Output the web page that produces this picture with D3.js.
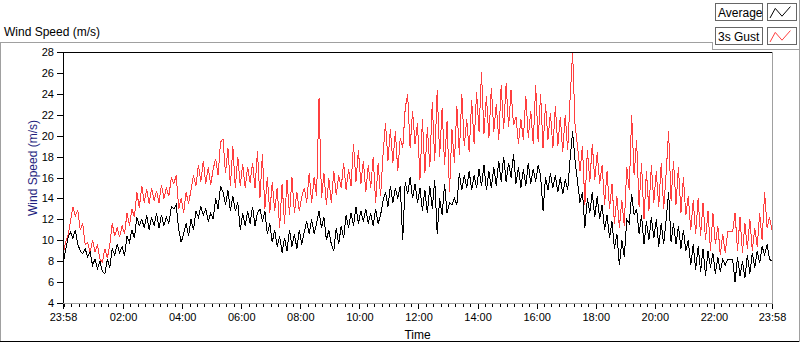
<!DOCTYPE html>
<html>
<head>
<meta charset="utf-8">
<script src="https://cdn.jsdelivr.net/npm/d3@7"></script>
<style>
  body { margin: 0; background: #fff; }
  svg { display: block; font-family: "Liberation Sans", Arial, sans-serif; }
</style>
</head>
<body>
<svg id="chart" width="800" height="342"></svg>
<script>
// values, one sample every 5 minutes from 23:58
var stepMinutes = 5;
var yTicks = [4, 6, 8, 10, 12, 14, 16, 18, 20, 22, 24, 26, 28];
var xTickLabels = ["23:58", "02:00", "04:00", "06:00", "08:00", "10:00", "12:00",
  "14:00", "16:00", "18:00", "20:00", "22:00", "23:58"];
var seriesNames = ["Average", "3s Gust"];

var gust = [
  8.6, 9.8, 10.4, 11.8, 13.2, 12.3, 12.9, 11.0, 11.6, 9.6,
  9.8, 8.8, 10.0, 8.9, 9.6, 8.2, 7.9, 9.2, 8.3, 9.5,
  11.6, 10.4, 11.2, 10.3, 11.4, 10.6, 12.6, 11.4, 13.0, 12.2,
  14.6, 13.1, 15.2, 13.6, 14.9, 13.5, 15.0, 13.8, 14.7, 13.6,
  15.3, 14.0, 15.0, 14.2, 16.0, 15.4, 16.2, 13.0, 14.0, 12.6,
  14.6, 13.5, 14.8, 16.2, 15.2, 17.2, 15.6, 17.6, 15.4, 17.0,
  15.3, 16.8, 17.8, 16.2, 19.4, 19.7, 16.4, 18.8, 15.2, 19.0,
  15.0, 18.0, 15.2, 17.3, 15.0, 17.0, 15.5, 17.4, 15.0, 18.5,
  14.0, 18.2, 13.0, 16.0, 12.6, 15.6, 12.8, 15.0, 11.2, 15.4,
  11.6, 15.8, 12.4, 16.0, 12.6, 14.6, 12.8, 14.2, 15.0, 13.6,
  16.4, 13.6, 16.0, 14.2, 23.6, 14.0, 16.4, 13.4, 15.9, 13.6,
  16.6, 14.3, 16.2, 15.0, 17.4, 14.8, 16.8, 15.2, 19.2, 15.6,
  18.6, 15.4, 17.6, 14.6, 17.2, 15.0, 18.0, 13.6, 17.4, 14.2,
  18.2, 21.2, 17.6, 20.6, 17.4, 20.4, 16.6, 19.8, 18.8, 22.6,
  24.0, 18.8, 22.4, 19.2, 21.2, 15.8, 21.6, 16.4, 20.8, 17.0,
  23.2, 17.6, 24.4, 18.0, 22.6, 17.2, 21.4, 14.6, 20.6, 17.4,
  22.8, 18.2, 24.0, 19.0, 21.6, 18.4, 23.4, 19.2, 24.2, 20.4,
  26.1, 20.2, 23.8, 19.8, 24.6, 20.4, 23.0, 19.6, 24.8, 20.6,
  25.0, 20.8, 24.4, 21.0, 21.8, 19.2, 21.6, 19.6, 23.8, 19.8,
  22.4, 19.2, 24.8, 19.4, 24.0, 18.8, 23.0, 19.6, 22.2, 18.8,
  22.8, 19.0, 21.8, 18.4, 22.0, 18.6, 23.6, 28.0, 21.0, 19.0,
  16.6, 19.0, 13.4, 18.6, 15.6, 19.2, 15.8, 18.4, 15.4, 17.2,
  13.4, 16.6, 13.0, 15.4, 11.6, 14.2, 11.2, 13.8, 11.4, 17.0,
  14.8, 22.0, 16.2, 19.6, 13.2, 17.4, 12.0, 16.6, 12.8, 17.2,
  13.6, 16.6, 13.2, 17.4, 13.0, 16.4, 20.4, 13.8, 17.6, 13.4,
  17.0, 12.6, 16.0, 12.4, 14.2, 11.0, 13.8, 10.6, 14.0, 10.4,
  13.6, 10.0, 12.8, 9.0, 12.6, 9.6, 11.4, 8.6, 10.6, 8.8,
  10.8, 10.8, 10.8, 12.6, 9.0, 12.2, 8.8, 11.6, 9.2, 12.0,
  9.0, 11.2, 9.4, 12.6, 10.0, 14.6, 11.2, 12.2, 11.0
];

var average = [
  7.6, 9.0, 10.2, 10.8, 10.2, 11.0, 9.6, 9.0, 8.7, 9.2,
  8.4, 8.9, 7.6, 8.2, 7.3, 8.0, 7.0, 6.8, 8.2, 7.4,
  9.2, 8.6, 9.6, 8.8, 9.4, 8.5, 10.4, 9.8, 11.0, 10.2,
  12.2, 11.4, 12.0, 11.2, 12.4, 11.0, 12.2, 11.4, 12.6, 11.2,
  12.4, 11.4, 12.2, 11.6, 13.2, 13.0, 13.4, 11.0, 9.8, 10.6,
  11.6, 10.4, 12.0, 11.0, 12.8, 12.2, 13.2, 12.4, 13.0, 11.8,
  12.6, 12.0, 14.0, 13.0, 15.2, 14.6, 13.4, 14.8, 12.8, 14.2,
  12.8, 13.6, 11.0, 12.6, 11.4, 12.8, 11.6, 13.2, 11.4, 12.6,
  13.0, 11.8, 12.8, 10.6, 11.6, 9.8, 11.0, 9.4, 10.4, 8.8,
  10.2, 9.0, 11.0, 9.4, 10.6, 9.2, 11.0, 9.6, 10.8, 11.8,
  10.6, 12.0, 10.6, 11.6, 12.8, 11.2, 12.2, 10.0, 11.0, 9.6,
  9.0, 11.2, 9.6, 11.4, 10.2, 12.4, 11.2, 12.6, 11.4, 13.2,
  11.6, 12.8, 11.8, 13.0, 11.6, 12.6, 11.4, 13.0, 11.6, 12.4,
  13.8, 14.6, 13.2, 15.2, 13.6, 15.0, 14.0, 15.2, 10.0, 15.6,
  14.4, 16.0, 14.0, 15.4, 13.6, 15.0, 12.8, 14.8, 12.6, 15.2,
  13.0, 15.8, 10.6, 14.0, 12.4, 15.4, 12.6, 13.6, 13.4, 14.0,
  13.4, 16.4, 14.8, 16.2, 15.0, 16.6, 14.8, 16.2, 15.0, 16.8,
  15.2, 17.2, 14.8, 16.6, 15.0, 17.0, 15.2, 17.6, 15.6, 18.0,
  15.6, 17.4, 16.0, 18.2, 15.4, 17.0, 15.0, 16.8, 15.2, 17.4,
  15.4, 16.8, 15.6, 17.2, 16.2, 12.8, 16.0, 14.8, 16.4, 15.0,
  16.2, 14.6, 16.0, 14.4, 15.8, 14.8, 17.8, 20.4, 17.6, 15.6,
  13.6, 14.6, 11.2, 14.0, 12.6, 14.6, 12.2, 14.2, 12.0, 13.4,
  11.0, 12.4, 10.2, 11.8, 9.2, 10.6, 7.6, 10.0, 8.4, 12.0,
  11.6, 14.4, 12.4, 13.0, 10.6, 12.4, 9.6, 11.8, 10.0, 12.2,
  10.2, 12.0, 9.4, 11.6, 9.6, 12.0, 14.6, 9.8, 11.6, 9.6,
  11.4, 9.2, 11.0, 9.0, 10.0, 7.6, 9.6, 7.2, 9.4, 7.0,
  9.2, 6.6, 9.0, 7.4, 8.8, 6.8, 8.4, 7.0, 8.2, 7.6,
  8.2, 8.2, 8.2, 6.0, 8.4, 6.6, 8.0, 6.4, 8.6, 6.8,
  8.8, 7.4, 9.0, 7.8, 9.4, 8.6, 9.6, 8.2, 8.0
];

var plot = { left: 63, right: 772, top: 52, bottom: 303 };
var colors = { average: "#000000", gust: "#ff3f3f", frame: "#a0a0a0", axisTitle: "#1f1f80" };

var svg = d3.select("#chart");
svg.append("rect").attr("width", 800).attr("height", 342).attr("fill", "#fff");

var start = new Date(2000, 0, 1, 23, 58);
var end = d3.timeMinute.offset(start, 1440);
var x = d3.scaleTime().domain([start, end]).range([plot.left, plot.right]);
var y = d3.scaleLinear().domain([4, 28]).range([plot.bottom, plot.top]);

function timeAt(i) { return d3.timeMinute.offset(start, i * stepMinutes); }

// outer control frame
var frame = svg.append("g").attr("shape-rendering", "crispEdges");
frame.append("line").attr("x1", 0).attr("x2", 712).attr("y1", 42.5).attr("y2", 42.5).attr("stroke", colors.frame);
frame.append("line").attr("x1", 0.5).attr("x2", 0.5).attr("y1", 42).attr("y2", 342).attr("stroke", colors.frame);
frame.append("line").attr("x1", 0).attr("x2", 800).attr("y1", 341.5).attr("y2", 341.5).attr("stroke", "#000");
frame.append("line").attr("x1", 799.5).attr("x2", 799.5).attr("y1", 0).attr("y2", 342).attr("stroke", colors.frame);
frame.append("line").attr("x1", 712.5).attr("x2", 712.5).attr("y1", 42).attr("y2", 50).attr("stroke", colors.frame);
frame.append("line").attr("x1", 712).attr("x2", 800).attr("y1", 49.5).attr("y2", 49.5).attr("stroke", colors.frame);

svg.append("text")
  .attr("x", 4).attr("y", 36)
  .attr("font-size", 12)
  .text("Wind Speed (m/s)");

// plot area
svg.append("clipPath").attr("id", "clip")
  .append("rect")
  .attr("x", plot.left + 1).attr("y", plot.top + 1)
  .attr("width", plot.right - plot.left - 1).attr("height", plot.bottom - plot.top - 1);

var line = d3.line()
  .x(function(d, i) { return x(timeAt(i)); })
  .y(function(d) { return y(d); });

var lines = svg.append("g").attr("clip-path", "url(#clip)");
lines.append("path")
  .datum(gust)
  .attr("d", line)
  .attr("fill", "none")
  .attr("stroke", colors.gust)
  .attr("stroke-width", 1)
  .attr("shape-rendering", "crispEdges");
lines.append("path")
  .datum(average)
  .attr("d", line)
  .attr("fill", "none")
  .attr("stroke", colors.average)
  .attr("stroke-width", 1)
  .attr("shape-rendering", "crispEdges");

var border = svg.append("g").attr("shape-rendering", "crispEdges");
border.append("line").attr("x1", plot.left + 0.5).attr("x2", plot.left + 0.5).attr("y1", plot.top).attr("y2", plot.bottom).attr("stroke", "#000");
border.append("line").attr("x1", plot.left).attr("x2", plot.right).attr("y1", plot.top + 0.5).attr("y2", plot.top + 0.5).attr("stroke", "#000");
border.append("line").attr("x1", plot.right + 0.5).attr("x2", plot.right + 0.5).attr("y1", plot.top).attr("y2", plot.bottom + 1).attr("stroke", colors.frame);
border.append("line").attr("x1", plot.left).attr("x2", plot.right + 1).attr("y1", plot.bottom + 0.5).attr("y2", plot.bottom + 0.5).attr("stroke", colors.frame);

// y axis
var yAxis = svg.append("g")
  .attr("transform", "translate(" + plot.left + ",0)")
  .call(d3.axisLeft(y).tickValues(yTicks).tickSize(6).tickPadding(3));
yAxis.select(".domain").remove();
yAxis.selectAll("text").attr("font-size", 11).attr("font-family", null).attr("fill", "#000");
yAxis.selectAll("line").attr("stroke", "#000").attr("shape-rendering", "crispEdges");

svg.append("text")
  .attr("transform", "translate(37,168) rotate(-90)")
  .attr("text-anchor", "middle")
  .attr("font-size", 12)
  .attr("fill", colors.axisTitle)
  .text("Wind Speed (m/s)");

// x axis: minor ticks every 15 min, labelled ticks every 2 h plus the ends
var minorTicks = d3.timeMinute.every(15).range(start, end);
var majorTicks = [start].concat(d3.timeHour.every(2).range(d3.timeMinute.offset(start, 60), end)).concat([end]);

var xMinor = svg.append("g")
  .attr("transform", "translate(0," + (plot.bottom + 1) + ")")
  .call(d3.axisBottom(x).tickValues(minorTicks).tickSize(3).tickFormat(""));
xMinor.select(".domain").remove();
xMinor.selectAll("line").attr("stroke", "#000").attr("shape-rendering", "crispEdges");

var xMajor = svg.append("g")
  .attr("transform", "translate(0," + (plot.bottom + 1) + ")")
  .call(d3.axisBottom(x).tickValues(majorTicks).tickSize(5)
    .tickFormat(function(d, i) { return xTickLabels[i]; }));
xMajor.select(".domain").remove();
xMajor.selectAll("line").attr("stroke", "#000").attr("shape-rendering", "crispEdges");
xMajor.selectAll("text")
  .attr("y", 17).attr("dy", null)
  .attr("font-size", 11).attr("font-family", null).attr("fill", "#000");

svg.append("text")
  .attr("x", (plot.left + plot.right) / 2).attr("y", 339)
  .attr("text-anchor", "middle")
  .attr("font-size", 12)
  .text("Time");

// legend
var legendData = [
  { name: seriesNames[0], color: colors.average },
  { name: seriesNames[1], color: colors.gust }
];
var glyph = [[0, 1], [0.22, 0.2], [0.5, 0.85], [0.85, 0.05]];

var legend = svg.append("g").selectAll("g")
  .data(legendData)
  .enter().append("g")
  .attr("transform", function(d, i) { return "translate(715," + (3 + i * 24) + ")"; });

legend.append("rect")
  .attr("x", 0.5).attr("y", 0.5).attr("width", 47).attr("height", 17)
  .attr("fill", "#fff").attr("stroke", "#666").attr("shape-rendering", "crispEdges");
legend.append("text")
  .attr("x", 3).attr("y", 13.5)
  .attr("font-size", 12)
  .text(function(d) { return d.name; });
legend.append("rect")
  .attr("x", 52.5).attr("y", 0.5).attr("width", 29).attr("height", 17)
  .attr("fill", "#fff").attr("stroke", "#666").attr("shape-rendering", "crispEdges");
legend.append("path")
  .attr("d", function() {
    return d3.line()
      .x(function(p) { return 55 + p[0] * 24; })
      .y(function(p) { return 3 + p[1] * 12; })(glyph);
  })
  .attr("fill", "none")
  .attr("stroke", function(d) { return d.color; });
</script>
</body>
</html>
